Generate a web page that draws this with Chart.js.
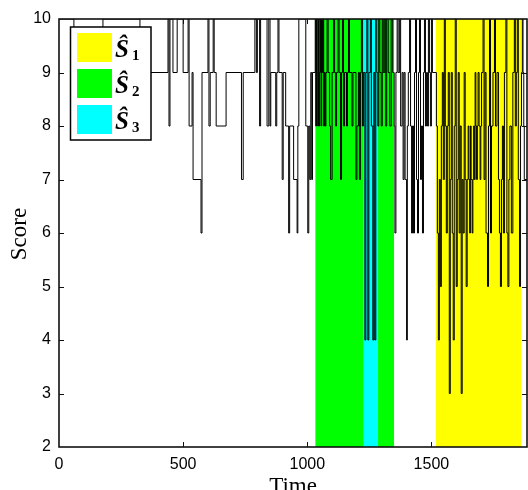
<!DOCTYPE html>
<html>
<head>
<meta charset="utf-8">
<script src="https://cdn.jsdelivr.net/npm/chart.js@4"></script>
<style>
  html, body { margin: 0; padding: 0; background: #fff; }
</style>
</head>
<body>
<canvas id="scoreChart" width="528" height="490"></canvas>
<script>
// Score series, kept as change points: score holds from each time until the next one
const stepTimes = [
  0, 60, 177, 326,
  439, 443, 447, 459, 476, 500, 520, 524, 536, 540, 572, 576, 600, 604, 609, 621, 625, 633, 673, 735, 742,
  789, 795, 799, 808, 812, 838, 845, 850, 853, 873, 877, 882, 886, 899, 903, 913, 925, 929, 945, 959, 962,
  966, 994, 1002, 1006, 1010, 1014, 1018, 1021,
  1032, 1034, 1037, 1040, 1042, 1045, 1048, 1050, 1053, 1056, 1058, 1061, 1064, 1066, 1069, 1072, 1075, 1080,
  1084, 1090, 1094, 1100, 1106, 1110,
  1114, 1118, 1124, 1128, 1134, 1138, 1142, 1146, 1150, 1158, 1162, 1166, 1170, 1180, 1184, 1196, 1200, 1206,
  1210, 1214, 1218, 1222,
  1226, 1232, 1236, 1240, 1244, 1248, 1254, 1258, 1264, 1268, 1272, 1276, 1280, 1284,
  1288, 1292, 1298, 1302, 1306, 1312, 1316, 1320, 1326, 1332, 1338, 1344, 1350,
  1353, 1357, 1362, 1366, 1372, 1376, 1382, 1386, 1390, 1394, 1400, 1403, 1407, 1412, 1416, 1420, 1424, 1428,
  1432, 1436, 1440, 1444, 1448, 1452, 1456, 1460, 1464, 1468, 1472, 1476, 1480, 1484, 1488, 1492, 1496, 1500, 1504,
  1520, 1524, 1528, 1532, 1536, 1540, 1544, 1548, 1552, 1556, 1560, 1564, 1568, 1572, 1576, 1580, 1584, 1588,
  1592, 1596, 1600, 1604, 1608, 1612, 1616, 1620, 1624, 1628, 1632, 1636, 1640,
  1644, 1648, 1651, 1654, 1657, 1660, 1664, 1667, 1670, 1673, 1676, 1679, 1682, 1685, 1688, 1692, 1696, 1699, 1702,
  1708, 1712, 1716, 1720, 1726, 1730, 1734, 1738, 1742, 1748, 1754, 1758,
  1764, 1770, 1774, 1778, 1782, 1786, 1790, 1794, 1800, 1804, 1808, 1812, 1816, 1822, 1828, 1834, 1838, 1842,
  1846, 1850, 1855, 1859, 1863,
  1866, 1869, 1872, 1874, 1885
];
const stepScores = [
  10, 9, 10, 9,
  10, 8, 10, 9, 10, 9, 10, 8, 9, 7, 6, 9, 10, 8, 9, 10, 9, 8, 9, 7, 9,
  10, 9, 10, 8, 10, 8, 10, 8, 9, 8, 9, 10, 9, 7, 9, 8, 6, 8, 7, 6, 8,
  10, 8, 6, 8, 7, 9, 7, 9,
  10, 8, 10, 9, 8, 10, 8, 9, 10, 8, 10, 9, 10, 8, 9, 8, 9, 10,
  9, 8, 7, 9, 10, 9,
  8, 9, 10, 9, 7, 9, 10, 8, 9, 8, 9, 10, 9, 8, 9, 7, 8, 9,
  7, 9, 10, 8,
  9, 4, 9, 10, 4, 9, 10, 8, 4, 9, 4, 10, 9, 8,
  10, 9, 8, 10, 9, 10, 8, 10, 9, 8, 10, 9, 8,
  6, 9, 10, 9, 10, 8, 9, 7, 9, 7, 4, 8, 9, 10, 8, 6, 8, 6,
  9, 10, 7, 6, 9, 10, 7, 8, 6, 9, 10, 8, 9, 8, 10, 9, 8, 10, 9,
  8, 6, 4, 7, 5, 8, 9, 7, 10, 8, 6, 8, 9, 3, 7, 9, 6, 4,
  8, 10, 5, 7, 9, 6, 8, 3, 7, 6, 9, 7, 5,
  7, 8, 7, 6, 8, 7, 6, 7, 8, 7, 9, 8, 7, 8, 9, 8, 7, 8, 9,
  10, 7, 9, 6, 5, 8, 10, 6, 8, 9, 10, 8,
  9, 7, 6, 5, 7, 8, 6, 9, 10, 6, 5, 7, 8, 6, 9, 10, 8, 9,
  10, 7, 5, 8, 9,
  10, 9, 8, 7, 7
];

// Shaded segments (legend order)
const regionNames = ['Ŝ', 'Ŝ', 'Ŝ'];
const regionSubs = ['1', '2', '3'];
const regionStart = [1517, 1032, 1225];
const regionEnd = [1861, 1350, 1286];
const regionColors = ['#ffff00', '#00ff00', '#00ffff'];

const xTicks = [0, 500, 1000, 1500];
const yTicks = [2, 3, 4, 5, 6, 7, 8, 9, 10];

const stepData = stepTimes.map((t, i) => ({ x: t, y: stepScores[i] }));

// frame + inward tick marks, drawn over the shaded areas
const framePlugin = {
  id: 'frame',
  afterDatasetsDraw(chart) {
    const { ctx, chartArea: a, scales } = chart;
    ctx.save();
    ctx.strokeStyle = '#111';
    ctx.lineWidth = 1;
    yTicks.forEach(v => {
      if (v === yTicks[0] || v === yTicks[yTicks.length - 1]) return;
      const p = Math.round(scales.y.getPixelForValue(v)) + 0.5;
      ctx.beginPath();
      ctx.moveTo(a.left, p); ctx.lineTo(a.left + 5, p);
      ctx.moveTo(a.right, p); ctx.lineTo(a.right - 5, p);
      ctx.stroke();
    });
    xTicks.forEach(v => {
      if (v === 0) return;
      const p = Math.round(scales.x.getPixelForValue(v)) + 0.5;
      ctx.beginPath();
      ctx.moveTo(p, a.bottom); ctx.lineTo(p, a.bottom - 5);
      ctx.moveTo(p, a.top); ctx.lineTo(p, a.top + 5);
      ctx.stroke();
    });
    ctx.lineWidth = 1.6;
    ctx.strokeRect(a.left, a.top, a.right - a.left, a.bottom - a.top);
    ctx.restore();
  }
};

// legend box in upper left + axis titles
const legendPlugin = {
  id: 'boxLegend',
  afterDraw(chart) {
    const ctx = chart.ctx;
    ctx.save();
    ctx.fillStyle = '#fff';
    ctx.fillRect(70, 27, 81, 113);
    ctx.strokeStyle = '#000';
    ctx.lineWidth = 1.5;
    ctx.strokeRect(70.5, 27, 80.5, 113);
    regionNames.forEach((name, i) => {
      const y = 33 + i * 36;
      ctx.fillStyle = regionColors[i];
      ctx.fillRect(77, y, 35, 29);
      ctx.fillStyle = '#000';
      ctx.textAlign = 'left';
      ctx.textBaseline = 'alphabetic';
      ctx.font = 'italic bold 25px "Liberation Serif"';
      ctx.fillText(name, 115, y + 24);
      ctx.font = 'bold 15px "Liberation Serif"';
      ctx.fillText(regionSubs[i], 132, y + 27);
    });

    ctx.font = '23px "Liberation Serif"';
    ctx.textAlign = 'center';
    ctx.textBaseline = 'alphabetic';
    ctx.fillText('Time', 293, 493);
    ctx.translate(26, 234);
    ctx.rotate(-Math.PI / 2);
    ctx.fillText('Score', 0, 0);
    ctx.restore();
  }
};

const datasets = [{
  label: 'Score',
  data: stepData,
  borderColor: '#000',
  borderWidth: 1,
  pointRadius: 0,
  stepped: true,
  fill: false,
  order: 0
}];
regionNames.forEach((name, i) => {
  datasets.push({
    label: name + regionSubs[i],
    data: [{ x: regionStart[i], y: 10 }, { x: regionEnd[i], y: 10 }],
    borderWidth: 0,
    borderColor: 'rgba(0,0,0,0)',
    backgroundColor: regionColors[i],
    pointRadius: 0,
    fill: 'start',
    order: i === 2 ? 1 : 2
  });
});

const tickFont = { family: 'Liberation Sans', size: 16 };

new Chart(document.getElementById('scoreChart'), {
  type: 'line',
  data: { datasets },
  options: {
    responsive: false,
    animation: false,
    devicePixelRatio: 1,
    layout: { padding: { top: 19, right: 1, left: 0, bottom: 0 } },
    plugins: { legend: { display: false }, tooltip: { enabled: false } },
    scales: {
      x: {
        type: 'linear',
        min: 0,
        max: 1885,
        grid: { display: false, drawTicks: false },
        border: { display: false },
        ticks: {
          padding: 8,
          maxRotation: 0,
          autoSkip: false,
          color: '#000',
          font: tickFont,
          callback: v => String(v)
        },
        afterBuildTicks(s) { s.ticks = xTicks.map(v => ({ value: v })); },
        afterFit(s) { s.height = 43; }
      },
      y: {
        min: 2,
        max: 10,
        grid: { display: false, drawTicks: false },
        border: { display: false },
        ticks: { padding: 8, autoSkip: false, color: '#000', font: tickFont, callback: v => String(v) },
        afterBuildTicks(s) { s.ticks = yTicks.map(v => ({ value: v })); },
        afterFit(s) { s.width = 59; }
      }
    }
  },
  plugins: [framePlugin, legendPlugin]
});
</script>
</body>
</html>
